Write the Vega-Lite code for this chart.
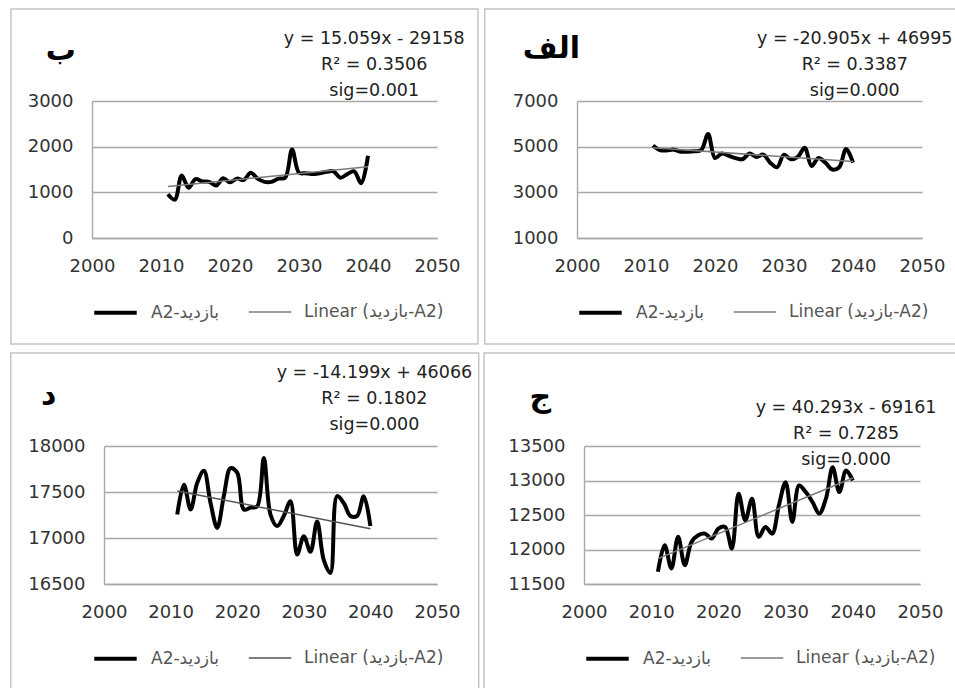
{
  "$schema": "https://vega.github.io/schema/vega-lite/v6.json",
  "padding": {"left": 10, "top": 8, "right": 0, "bottom": 0},
  "background": "white",
  "config": {
    "view": {"stroke": null},
    "font": "DejaVu Sans",
    "axis": {"labelFont": "DejaVu Sans", "labelFontSize": 18, "labelColor": "#333333", "ticks": false, "title": null, "gridColor": "#a8a8a8", "gridWidth": 1.4, "domainColor": "#a8a8a8", "domainWidth": 1.4, "labelOverlap": false, "tickCount": 12},
    "axisX": {"labelPadding": 19, "grid": false, "labelFlush": false},
    "axisY": {"labelPadding": 19, "grid": true},
    "legend": {"orient": "bottom", "direction": "horizontal", "symbolType": "stroke", "symbolSize": 1800, "labelFont": "DejaVu Sans", "labelFontSize": 17, "labelColor": "#555555", "labelOffset": 12, "columnPadding": 26, "offset": 14, "labelLimit": 300}
  },
  "datasets": {
    "one": [{}],
    "b": [
      {"year": 2011, "value": 957, "series": "A2-بازدید"},
      {"year": 2012, "value": 840, "series": "A2-بازدید"},
      {"year": 2013, "value": 1370, "series": "A2-بازدید"},
      {"year": 2014, "value": 1100, "series": "A2-بازدید"},
      {"year": 2015, "value": 1290, "series": "A2-بازدید"},
      {"year": 2016, "value": 1240, "series": "A2-بازدید"},
      {"year": 2017, "value": 1230, "series": "A2-بازدید"},
      {"year": 2018, "value": 1150, "series": "A2-بازدید"},
      {"year": 2019, "value": 1310, "series": "A2-بازدید"},
      {"year": 2020, "value": 1220, "series": "A2-بازدید"},
      {"year": 2021, "value": 1300, "series": "A2-بازدید"},
      {"year": 2022, "value": 1270, "series": "A2-بازدید"},
      {"year": 2023, "value": 1430, "series": "A2-بازدید"},
      {"year": 2024, "value": 1300, "series": "A2-بازدید"},
      {"year": 2025, "value": 1230, "series": "A2-بازدید"},
      {"year": 2026, "value": 1230, "series": "A2-بازدید"},
      {"year": 2027, "value": 1300, "series": "A2-بازدید"},
      {"year": 2028, "value": 1320, "series": "A2-بازدید"},
      {"year": 2029, "value": 1940, "series": "A2-بازدید"},
      {"year": 2030, "value": 1430, "series": "A2-بازدید"},
      {"year": 2031, "value": 1420, "series": "A2-بازدید"},
      {"year": 2032, "value": 1400, "series": "A2-بازدید"},
      {"year": 2033, "value": 1420, "series": "A2-بازدید"},
      {"year": 2034, "value": 1450, "series": "A2-بازدید"},
      {"year": 2035, "value": 1460, "series": "A2-بازدید"},
      {"year": 2036, "value": 1320, "series": "A2-بازدید"},
      {"year": 2037, "value": 1400, "series": "A2-بازدید"},
      {"year": 2038, "value": 1460, "series": "A2-بازدید"},
      {"year": 2039, "value": 1200, "series": "A2-بازدید"},
      {"year": 2040, "value": 1800, "series": "A2-بازدید"},
      {"year": 2011, "value": 1125.6, "series": "Linear (بازدید-A2)"},
      {"year": 2040, "value": 1562.1, "series": "Linear (بازدید-A2)"}
    ],
    "alef": [
      {"year": 2011, "value": 5050, "series": "A2-بازدید"},
      {"year": 2012, "value": 4850, "series": "A2-بازدید"},
      {"year": 2013, "value": 4830, "series": "A2-بازدید"},
      {"year": 2014, "value": 4870, "series": "A2-بازدید"},
      {"year": 2015, "value": 4780, "series": "A2-بازدید"},
      {"year": 2016, "value": 4780, "series": "A2-بازدید"},
      {"year": 2017, "value": 4800, "series": "A2-بازدید"},
      {"year": 2018, "value": 4850, "series": "A2-بازدید"},
      {"year": 2019, "value": 5550, "series": "A2-بازدید"},
      {"year": 2020, "value": 4500, "series": "A2-بازدید"},
      {"year": 2021, "value": 4700, "series": "A2-بازدید"},
      {"year": 2022, "value": 4600, "series": "A2-بازدید"},
      {"year": 2023, "value": 4500, "series": "A2-بازدید"},
      {"year": 2024, "value": 4450, "series": "A2-بازدید"},
      {"year": 2025, "value": 4700, "series": "A2-بازدید"},
      {"year": 2026, "value": 4550, "series": "A2-بازدید"},
      {"year": 2027, "value": 4650, "series": "A2-بازدید"},
      {"year": 2028, "value": 4300, "series": "A2-بازدید"},
      {"year": 2029, "value": 4100, "series": "A2-بازدید"},
      {"year": 2030, "value": 4650, "series": "A2-بازدید"},
      {"year": 2031, "value": 4450, "series": "A2-بازدید"},
      {"year": 2032, "value": 4550, "series": "A2-بازدید"},
      {"year": 2033, "value": 4950, "series": "A2-بازدید"},
      {"year": 2034, "value": 4150, "series": "A2-بازدید"},
      {"year": 2035, "value": 4500, "series": "A2-بازدید"},
      {"year": 2036, "value": 4300, "series": "A2-بازدید"},
      {"year": 2037, "value": 4000, "series": "A2-بازدید"},
      {"year": 2038, "value": 4100, "series": "A2-بازدید"},
      {"year": 2039, "value": 4900, "series": "A2-بازدید"},
      {"year": 2040, "value": 4300, "series": "A2-بازدید"},
      {"year": 2011, "value": 4955, "series": "Linear (بازدید-A2)"},
      {"year": 2040, "value": 4349, "series": "Linear (بازدید-A2)"}
    ],
    "dal": [
      {"year": 2011, "value": 17255, "series": "A2-بازدید"},
      {"year": 2012, "value": 17580, "series": "A2-بازدید"},
      {"year": 2013, "value": 17310, "series": "A2-بازدید"},
      {"year": 2014, "value": 17600, "series": "A2-بازدید"},
      {"year": 2015, "value": 17730, "series": "A2-بازدید"},
      {"year": 2016, "value": 17380, "series": "A2-بازدید"},
      {"year": 2017, "value": 17110, "series": "A2-بازدید"},
      {"year": 2018, "value": 17460, "series": "A2-بازدید"},
      {"year": 2019, "value": 17760, "series": "A2-بازدید"},
      {"year": 2020, "value": 17710, "series": "A2-بازدید"},
      {"year": 2021, "value": 17310, "series": "A2-بازدید"},
      {"year": 2022, "value": 17330, "series": "A2-بازدید"},
      {"year": 2023, "value": 17345, "series": "A2-بازدید"},
      {"year": 2024, "value": 17870, "series": "A2-بازدید"},
      {"year": 2025, "value": 17255, "series": "A2-بازدید"},
      {"year": 2026, "value": 17130, "series": "A2-بازدید"},
      {"year": 2027, "value": 17240, "series": "A2-بازدید"},
      {"year": 2028, "value": 17400, "series": "A2-بازدید"},
      {"year": 2029, "value": 16820, "series": "A2-بازدید"},
      {"year": 2030, "value": 17020, "series": "A2-بازدید"},
      {"year": 2031, "value": 16850, "series": "A2-بازدید"},
      {"year": 2032, "value": 17180, "series": "A2-بازدید"},
      {"year": 2033, "value": 16760, "series": "A2-بازدید"},
      {"year": 2034, "value": 16620, "series": "A2-بازدید"},
      {"year": 2035, "value": 17455, "series": "A2-بازدید"},
      {"year": 2036, "value": 17380, "series": "A2-بازدید"},
      {"year": 2037, "value": 17240, "series": "A2-بازدید"},
      {"year": 2038, "value": 17240, "series": "A2-بازدید"},
      {"year": 2039, "value": 17455, "series": "A2-بازدید"},
      {"year": 2040, "value": 17130, "series": "A2-بازدید"},
      {"year": 2011, "value": 17511.8, "series": "Linear (بازدید-A2)"},
      {"year": 2040, "value": 17100.0, "series": "Linear (بازدید-A2)"}
    ],
    "jim": [
      {"year": 2011, "value": 11678, "series": "A2-بازدید"},
      {"year": 2012, "value": 12062, "series": "A2-بازدید"},
      {"year": 2013, "value": 11726, "series": "A2-بازدید"},
      {"year": 2014, "value": 12183, "series": "A2-بازدید"},
      {"year": 2015, "value": 11774, "series": "A2-بازدید"},
      {"year": 2016, "value": 12110, "series": "A2-بازدید"},
      {"year": 2017, "value": 12207, "series": "A2-بازدید"},
      {"year": 2018, "value": 12230, "series": "A2-بازدید"},
      {"year": 2019, "value": 12160, "series": "A2-بازدید"},
      {"year": 2020, "value": 12303, "series": "A2-بازدید"},
      {"year": 2021, "value": 12327, "series": "A2-بازدید"},
      {"year": 2022, "value": 12014, "series": "A2-بازدید"},
      {"year": 2023, "value": 12808, "series": "A2-بازدید"},
      {"year": 2024, "value": 12423, "series": "A2-بازدید"},
      {"year": 2025, "value": 12736, "series": "A2-بازدید"},
      {"year": 2026, "value": 12183, "series": "A2-بازدید"},
      {"year": 2027, "value": 12327, "series": "A2-بازدید"},
      {"year": 2028, "value": 12230, "series": "A2-بازدید"},
      {"year": 2029, "value": 12640, "series": "A2-بازدید"},
      {"year": 2030, "value": 12976, "series": "A2-بازدید"},
      {"year": 2031, "value": 12400, "series": "A2-بازدید"},
      {"year": 2032, "value": 12928, "series": "A2-بازدید"},
      {"year": 2033, "value": 12832, "series": "A2-بازدید"},
      {"year": 2034, "value": 12688, "series": "A2-بازدید"},
      {"year": 2035, "value": 12520, "series": "A2-بازدید"},
      {"year": 2036, "value": 12736, "series": "A2-بازدید"},
      {"year": 2037, "value": 13192, "series": "A2-بازدید"},
      {"year": 2038, "value": 12832, "series": "A2-بازدید"},
      {"year": 2039, "value": 13144, "series": "A2-بازدید"},
      {"year": 2040, "value": 13000, "series": "A2-بازدید"},
      {"year": 2011, "value": 11868.2, "series": "Linear (بازدید-A2)"},
      {"year": 2040, "value": 13036.7, "series": "Linear (بازدید-A2)"}
    ]
  },
  "resolve": {"scale": {"color": "independent", "strokeWidth": "independent"}, "legend": {"color": "independent", "strokeWidth": "independent"}},
  "columns": 2,
  "align": "none",
  "spacing": {"row": 7, "column": 3},
  "concat": [
    {
      "width": 345, "height": 137,
      "layer": [
        {
          "data": {"name": "one"},
          "mark": {"type": "rect", "fill": "transparent", "stroke": "#c4c4c4", "strokeWidth": 1.5, "clip": false},
          "encoding": {"x": {"datum": 1988.26}, "x2": {"datum": 2055.94}, "y": {"datum": 5015}, "y2": {"datum": -2321}}
        },
        {
          "data": {"name": "b"},
          "mark": {"type": "line", "interpolate": "catmull-rom", "clip": false},
          "encoding": {
            "x": {"field": "year", "type": "quantitative", "scale": {"domain": [2000, 2050], "nice": false, "zero": false}, "axis": {"values": [2000, 2010, 2020, 2030, 2040, 2050], "format": "d"}},
            "y": {"field": "value", "type": "quantitative", "scale": {"domain": [0, 3000], "nice": false}, "axis": {"values": [0, 1000, 2000, 3000], "format": "d"}},
            "detail": {"field": "series"},
            "color": {"field": "series", "type": "nominal", "scale": {"domain": ["A2-بازدید", "Linear (بازدید-A2)"], "range": ["#000000", "#7a7a7a"]}, "legend": {"title": null}},
            "strokeWidth": {"field": "series", "type": "nominal", "scale": {"domain": ["A2-بازدید", "Linear (بازدید-A2)"], "range": [4, 1.5]}, "legend": {"title": null}}
          }
        },
        {
          "data": {"name": "one"},
          "mark": {"type": "text", "text": "ب", "fontSize": 30, "fontWeight": "bold", "font": "DejaVu Sans", "align": "center", "baseline": "middle", "clip": false, "color": "#000000"},
          "encoding": {"x": {"datum": 1995.5}, "y": {"datum": 4095}}
        },
        {
          "data": {"name": "one"},
          "mark": {"type": "text", "text": ["y = 15.059x - 29158", "R² = 0.3506", "sig=0.001"], "lineHeight": 26, "fontSize": 17.5, "font": "DejaVu Sans", "align": "center", "baseline": "top", "clip": false, "color": "#222222"},
          "encoding": {"x": {"datum": 2040.9}, "y": {"datum": 4560}}
        }
      ]
    },
    {
      "width": 345, "height": 137,
      "layer": [
        {
          "data": {"name": "one"},
          "mark": {"type": "rect", "fill": "transparent", "stroke": "#c4c4c4", "strokeWidth": 1.5, "clip": false},
          "encoding": {"x": {"datum": 1986.62}, "x2": {"datum": 2055.17}, "y": {"datum": 11030}, "y2": {"datum": -3643}}
        },
        {
          "data": {"name": "alef"},
          "mark": {"type": "line", "interpolate": "catmull-rom", "clip": false},
          "encoding": {
            "x": {"field": "year", "type": "quantitative", "scale": {"domain": [2000, 2050], "nice": false, "zero": false}, "axis": {"values": [2000, 2010, 2020, 2030, 2040, 2050], "format": "d"}},
            "y": {"field": "value", "type": "quantitative", "scale": {"domain": [1000, 7000], "nice": false, "zero": false}, "axis": {"values": [1000, 3000, 5000, 7000], "format": "d"}},
            "detail": {"field": "series"},
            "color": {"field": "series", "type": "nominal", "scale": {"domain": ["A2-بازدید", "Linear (بازدید-A2)"], "range": ["#000000", "#7a7a7a"]}, "legend": {"title": null}},
            "strokeWidth": {"field": "series", "type": "nominal", "scale": {"domain": ["A2-بازدید", "Linear (بازدید-A2)"], "range": [4, 1.5]}, "legend": {"title": null}}
          }
        },
        {
          "data": {"name": "one"},
          "mark": {"type": "text", "text": "الف", "fontSize": 30, "fontWeight": "bold", "font": "DejaVu Sans", "align": "center", "baseline": "middle", "clip": false, "color": "#000000"},
          "encoding": {"x": {"datum": 1996.3}, "y": {"datum": 9278}}
        },
        {
          "data": {"name": "one"},
          "mark": {"type": "text", "text": ["y = -20.905x + 46995", "R² = 0.3387", "sig=0.000"], "lineHeight": 26, "fontSize": 17.5, "font": "DejaVu Sans", "align": "center", "baseline": "top", "clip": false, "color": "#222222"},
          "encoding": {"x": {"datum": 2040.25}, "y": {"datum": 10100}}
        }
      ]
    },
    {
      "width": 345, "height": 138,
      "layer": [
        {
          "data": {"name": "one"},
          "mark": {"type": "rect", "fill": "transparent", "stroke": "#c4c4c4", "strokeWidth": 1.5, "clip": false},
          "encoding": {"x": {"datum": 1986.0}, "x2": {"datum": 2056.26}, "y": {"datum": 19011}, "y2": {"datum": 15359}}
        },
        {
          "data": {"name": "dal"},
          "mark": {"type": "line", "interpolate": "catmull-rom", "clip": false},
          "encoding": {
            "x": {"field": "year", "type": "quantitative", "scale": {"domain": [2000, 2050], "range": [12, 345], "nice": false, "zero": false}, "axis": {"values": [2000, 2010, 2020, 2030, 2040, 2050], "format": "d"}},
            "y": {"field": "value", "type": "quantitative", "scale": {"domain": [16500, 18000], "nice": false, "zero": false}, "axis": {"values": [16500, 17000, 17500, 18000], "format": "d", "offset": -12}},
            "detail": {"field": "series"},
            "color": {"field": "series", "type": "nominal", "scale": {"domain": ["A2-بازدید", "Linear (بازدید-A2)"], "range": ["#000000", "#555555"]}, "legend": {"title": null}},
            "strokeWidth": {"field": "series", "type": "nominal", "scale": {"domain": ["A2-بازدید", "Linear (بازدید-A2)"], "range": [4, 1.5]}, "legend": {"title": null}}
          }
        },
        {
          "data": {"name": "one"},
          "mark": {"type": "text", "text": "د", "fontSize": 30, "fontWeight": "bold", "font": "DejaVu Sans", "align": "center", "baseline": "middle", "clip": false, "color": "#000000"},
          "encoding": {"x": {"datum": 1991.7}, "y": {"datum": 18554}}
        },
        {
          "data": {"name": "one"},
          "mark": {"type": "text", "text": ["y = -14.199x + 46066", "R² = 0.1802", "sig=0.000"], "lineHeight": 26, "fontSize": 17.5, "font": "DejaVu Sans", "align": "center", "baseline": "top", "clip": false, "color": "#222222"},
          "encoding": {"x": {"datum": 2040.6}, "y": {"datum": 18890}}
        }
      ]
    },
    {
      "width": 336, "height": 138,
      "layer": [
        {
          "data": {"name": "one"},
          "mark": {"type": "rect", "fill": "transparent", "stroke": "#c4c4c4", "strokeWidth": 1.5, "clip": false},
          "encoding": {"x": {"datum": 1985.12}, "x2": {"datum": 2055.36}, "y": {"datum": 14847}, "y2": {"datum": 9979}}
        },
        {
          "data": {"name": "jim"},
          "mark": {"type": "line", "interpolate": "catmull-rom", "clip": false},
          "encoding": {
            "x": {"field": "year", "type": "quantitative", "scale": {"domain": [2000, 2050], "nice": false, "zero": false}, "axis": {"values": [2000, 2010, 2020, 2030, 2040, 2050], "format": "d"}},
            "y": {"field": "value", "type": "quantitative", "scale": {"domain": [11500, 13500], "nice": false, "zero": false}, "axis": {"values": [11500, 12000, 12500, 13000, 13500], "format": "d", "tickCount": 12}},
            "detail": {"field": "series"},
            "color": {"field": "series", "type": "nominal", "scale": {"domain": ["A2-بازدید", "Linear (بازدید-A2)"], "range": ["#000000", "#7a7a7a"]}, "legend": {"title": null}},
            "strokeWidth": {"field": "series", "type": "nominal", "scale": {"domain": ["A2-بازدید", "Linear (بازدید-A2)"], "range": [4, 1.5]}, "legend": {"title": null}}
          }
        },
        {
          "data": {"name": "one"},
          "mark": {"type": "text", "text": "ج", "fontSize": 30, "fontWeight": "bold", "font": "DejaVu Sans", "align": "center", "baseline": "middle", "clip": false, "color": "#000000"},
          "encoding": {"x": {"datum": 1993.5}, "y": {"datum": 14195}}
        },
        {
          "data": {"name": "one"},
          "mark": {"type": "text", "text": ["y = 40.293x - 69161", "R² = 0.7285", "sig=0.000"], "lineHeight": 26, "fontSize": 17.5, "font": "DejaVu Sans", "align": "center", "baseline": "top", "clip": false, "color": "#222222"},
          "encoding": {"x": {"datum": 2039}, "y": {"datum": 14180}}
        }
      ]
    }
  ]
}
